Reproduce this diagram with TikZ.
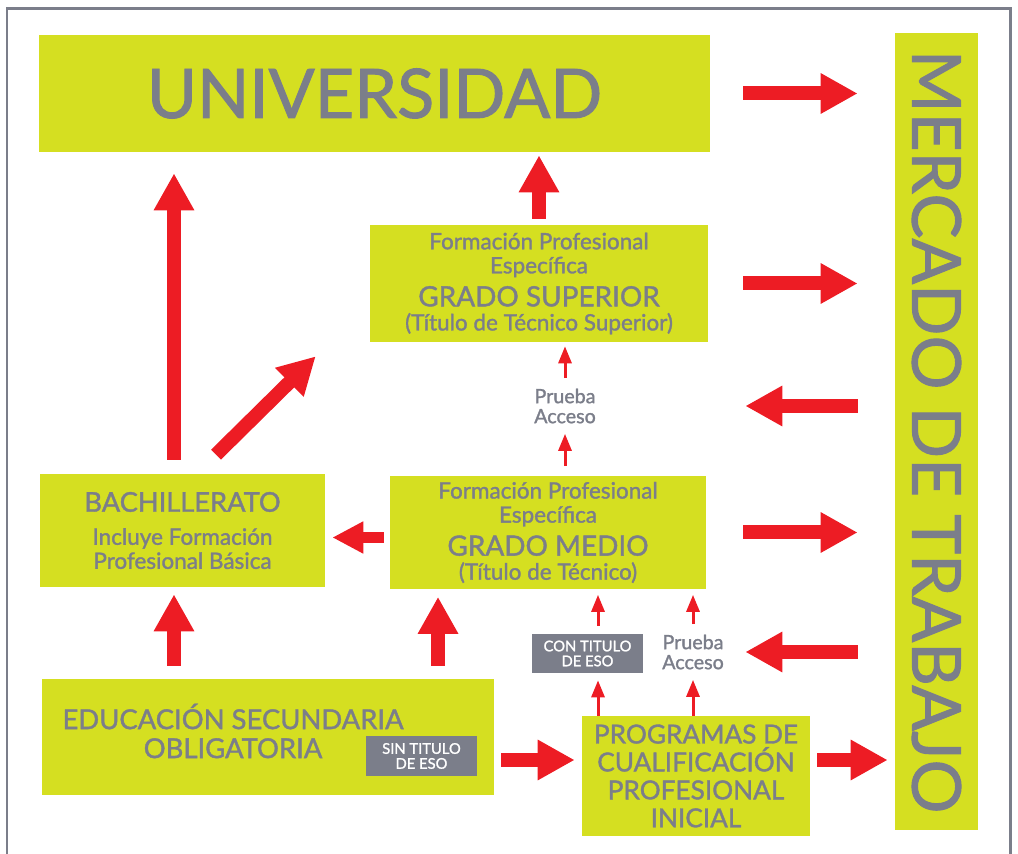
\documentclass[tikz,border=0pt]{standalone}
\usepackage{fontspec}
\setmainfont{Lato}[FakeBold=1.4]
\usetikzlibrary{arrows.meta}
\definecolor{lime}{RGB}{213,223,33}
\definecolor{slate}{RGB}{123,126,138}
\definecolor{flag}{RGB}{237,28,36}

\begin{document}
\begin{tikzpicture}[x=0.02cm, y=-0.02cm,
  limebox/.style={fill=lime, text=slate, align=center, inner sep=0pt, execute at begin node={\lineskiplimit=-20pt}},
  greytag/.style={fill=slate, text=white, align=center, inner sep=0pt, minimum width=2.22cm, font=\fontsize{8.4}{8.5}\selectfont},
  testnote/.style={text=slate, align=center, inner sep=0pt, minimum width=1.4cm, minimum height=1.1cm, font=\fontsize{11.2}{11.4}\selectfont},
  fatarrow/.style={draw=flag, line width=0.28cm, -{Triangle[length=0.74cm,width=0.76cm]}},
  midarrow/.style={draw=flag, line width=0.22cm, -{Triangle[length=0.62cm,width=0.6cm]}},
  thinarrow/.style={draw=flag, line width=0.06cm, -{Triangle[length=0.34cm,width=0.26cm]}}]
\useasboundingbox (0,0) rectangle (1018,854);
\draw[slate, line width=0.06cm] (7,854) -- (7,9) -- (1010,9) -- (1010,854);

\node[limebox, minimum width=13.42cm, minimum height=2.34cm, font=\fontsize{38.9}{40}\selectfont] (univ) at (374.5,93.5) {UNIVERSIDAD};
\node[limebox, minimum width=1.66cm, minimum height=15.94cm, label={[text=slate, rotate=-90, font=\fontsize{38.4}{40}\selectfont]center:MERCADO DE TRABAJO}] (merc) at (936.5,431.5) {};
\node[limebox, minimum width=6.76cm, minimum height=2.34cm, font=\fontsize{12.8}{13.7}\selectfont] (sup) at (539,283.5) {Formación Profesional\\Específica\\[5.1pt]{\fontsize{15.9}{16}\selectfont GRADO SUPERIOR}\\(Título de Técnico Superior)};
\node[limebox, minimum width=6.32cm, minimum height=2.28cm, font=\fontsize{12.8}{13.7}\selectfont] (medio) at (548,532.5) {Formación Profesional\\Específica\\[5.1pt]{\fontsize{15.9}{16}\selectfont GRADO MEDIO}\\(Título de Técnico)};
\node[limebox, minimum width=5.7cm, minimum height=2.26cm, font=\fontsize{12.8}{13.7}\selectfont] (bach) at (182.5,530.5) {{\fontsize{15.5}{15}\selectfont BACHILLERATO}\\[5.1pt]Incluye Formación\\Profesional Básica};
\node[limebox, minimum width=9.04cm, minimum height=2.32cm, label={[text=slate, align=center, font=\fontsize{15.6}{16.5}\selectfont, xshift=-0.7cm, yshift=0.12cm]center:EDUCACIÓN SECUNDARIA\\OBLIGATORIA}] (eso) at (268,737) {};
\node[greytag, minimum height=0.8cm] (sintit) at (421.5,756) {SIN TITULO\\DE ESO};
\node[limebox, minimum width=4.56cm, minimum height=2.4cm, font=\fontsize{14.9}{15.9}\selectfont] (pcpi) at (696,776) {PROGRAMAS DE\\CUALIFICACIÓN\\PROFESIONAL\\INICIAL};
\node[greytag, minimum height=0.78cm] (contit) at (587.5,653.5) {CON TITULO\\DE ESO};
\node[testnote] (prueba1) at (565,406) {Prueba\\Acceso};
\node[testnote] (prueba2) at (693,652) {Prueba\\Acceso};

\coordinate (pcpiout) at ([yshift=0.32cm]pcpi.east);
\coordinate (esoout) at ([yshift=-0.46cm]eso.east);
\coordinate (medioout) at ([yshift=-0.1cm]medio.west);
\coordinate (bachup) at ([xshift=-0.17cm]bach.north);
\coordinate (bachdown) at ([xshift=-0.17cm]bach.south);
\coordinate (mediodown) at ([xshift=-2.2cm]medio.south);
\coordinate (citop) at ([xshift=0.21cm]contit.north);
\coordinate (cibot) at ([xshift=0.21cm]contit.south);

\draw[fatarrow, shorten <=0.66cm, shorten >=0.74cm] (univ.east) -- (univ.east -| merc.west);
\draw[fatarrow, shorten <=0.7cm, shorten >=0.74cm] (sup.east) -- (sup.east -| merc.west);
\draw[fatarrow, shorten <=0.74cm, shorten >=0.74cm] (medio.east) -- (medio.east -| merc.west);
\draw[fatarrow, shorten <=0.74cm, shorten >=2.9cm] (merc.west |- prueba1) -- (prueba1.east);
\draw[fatarrow, shorten <=0.74cm, shorten >=0.34cm] (merc.west |- prueba2) -- (prueba2.east);
\draw[fatarrow, shorten <=0.14cm, shorten >=0.14cm] (pcpiout) -- (pcpiout -| merc.west);
\draw[fatarrow, shorten <=0.14cm, shorten >=0.14cm] (esoout) -- (esoout -| pcpi.west);
\draw[midarrow, shorten <=0.12cm, shorten >=0.14cm] (medioout) -- (medioout -| bach.east);
\draw[fatarrow, shorten <=0.28cm, shorten >=0.42cm] (bachup) -- (bachup |- univ.south);
\draw[fatarrow, shorten <=0.26cm, shorten >=0.14cm] (bachdown |- eso.north) -- (bachdown);
\draw[fatarrow, shorten <=0.26cm, shorten >=0.14cm] (mediodown |- eso.north) -- (mediodown);
\draw[fatarrow] ([xshift=0.67cm,yshift=0.38cm]bach.north) -- ([xshift=-1.08cm,yshift=-0.28cm]sup.south west);
\draw[fatarrow, shorten <=0.12cm, shorten >=0.06cm] (sup.north) -- (sup.north |- univ.south);

\draw[thinarrow, shorten >=0.08cm] (prueba1.north) -- (prueba1.north |- sup.south);
\draw[thinarrow, shorten <=0.18cm] (prueba1.south |- medio.north) -- (prueba1.south);
\draw[thinarrow, shorten <=0.16cm, shorten >=0.1cm] (citop) -- (citop |- medio.south);
\draw[thinarrow, shorten >=0.14cm] (cibot |- pcpi.north) -- (cibot);
\draw[thinarrow, shorten >=0.1cm] (prueba2.north) -- (prueba2.north |- medio.south);
\draw[thinarrow] (prueba2.south |- pcpi.north) -- (prueba2.south);
\end{tikzpicture}
\end{document}
